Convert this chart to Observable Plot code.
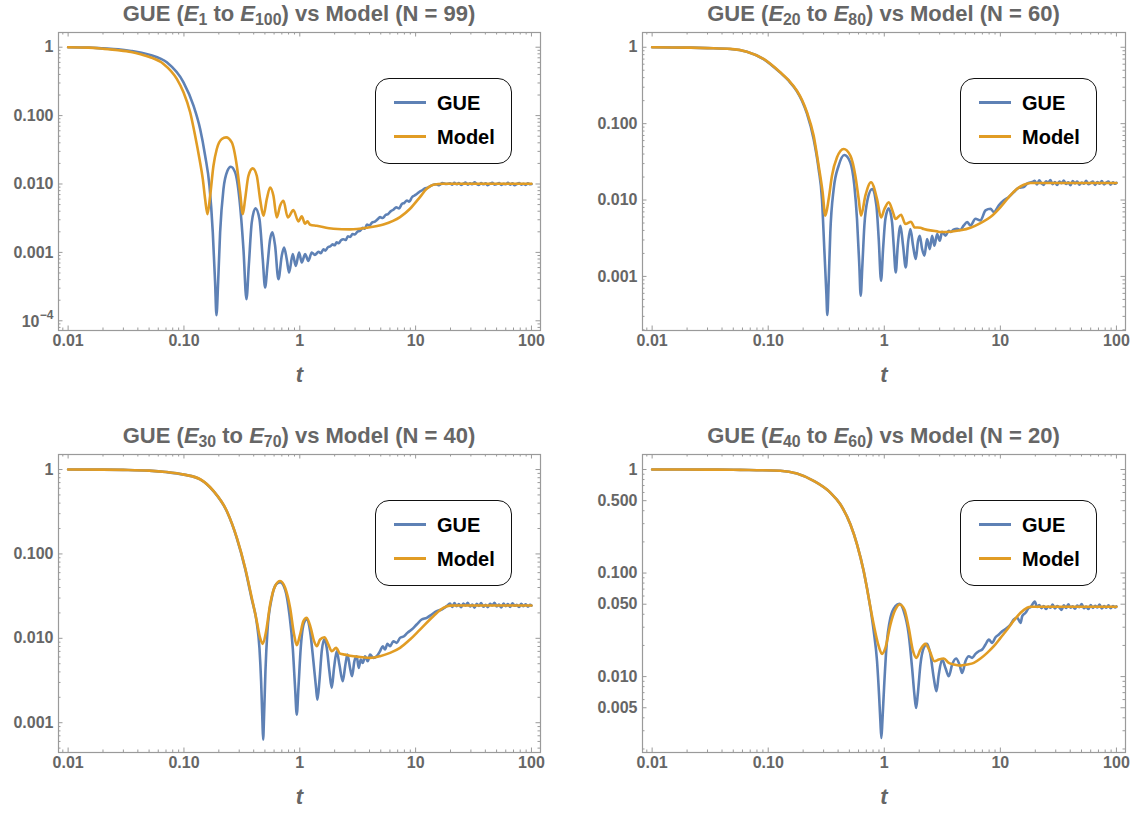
<!DOCTYPE html>
<html><head><meta charset="utf-8">
<script src="https://cdn.jsdelivr.net/npm/d3@7"></script>
<script src="https://cdn.jsdelivr.net/npm/@observablehq/plot@0.6"></script>
<style>
html,body{margin:0;padding:0;background:#fff;}
#chart{position:relative;width:1137px;height:814px;overflow:hidden;font-family:"Liberation Sans",Arial,Helvetica,sans-serif;}
.panel{position:absolute;}
.title{position:absolute;white-space:nowrap;font-size:22px;line-height:22px;font-weight:bold;color:#666;transform:translateX(-50%);}
.title sub{font-size:0.72em;position:relative;top:0.28em;vertical-align:baseline;line-height:0;}
.legend{position:absolute;width:137px;height:86px;border:1.2px solid #111;border-radius:14px;background:#fff;box-sizing:border-box;}
.sw{position:absolute;left:18px;width:32px;height:3px;}
.lt{position:absolute;left:61px;font-size:20px;line-height:20px;font-weight:bold;color:#000;}
</style></head><body><div id="chart"></div>
<script>
// ---------- data (t, value) ----------
const model1 = [[0.01,1.0],[0.015,0.985],[0.02,0.95],[0.027,0.905],[0.035,0.85],[0.043,0.78],[0.0511,0.714],[0.0666,0.57],[0.0868,0.344],[0.0991,0.219],[0.1131,0.112],[0.1249,0.0509],[0.1362,0.0232],[0.1455,0.0118],[0.1524,0.0060],[0.1596,0.00363],[0.1683,0.00673],[0.1798,0.0185],[0.1921,0.0325],[0.2122,0.0455],[0.2312,0.0481],[0.2588,0.0406],[0.2859,0.0185],[0.3055,0.00753],[0.3222,0.00363],[0.3373,0.0060],[0.3604,0.0132],[0.3928,0.0169],[0.4253,0.0132],[0.4544,0.0060],[0.4857,0.00343],[0.5188,0.0060],[0.5544,0.00891],[0.5923,0.00673],[0.6329,0.00324],[0.6761,0.00481],[0.7226,0.00569],[0.7874,0.00324],[0.8812,0.00415],[0.9732,0.00284],[1.040,0.00336],[1.111,0.00262],[1.164,0.00284],[1.227,0.00254],[1.401,0.00245],[1.951,0.00222],[2.716,0.00217],[3.78,0.00229],[5.27,0.00256],[7.33,0.00328],[8.95,0.00435],[10.9,0.00644],[12.46,0.00853],[14.22,0.00976],[17.35,0.0101],[30,0.0101],[65,0.0101],[100,0.0101]];
const gue1 = [[0.01,1.0],[0.015,0.99],[0.02,0.962],[0.027,0.93],[0.035,0.88],[0.043,0.83],[0.0511,0.772],[0.0711,0.602],[0.0991,0.307],[0.1209,0.140],[0.138,0.0637],[0.1524,0.0259],[0.166,0.00944],[0.1774,0.00196],[0.1858,0.000362],[0.1908,0.000121],[0.1972,0.000362],[0.2052,0.00196],[0.2193,0.00844],[0.2374,0.0156],[0.2537,0.0179],[0.2765,0.0148],[0.3014,0.0060],[0.3264,0.00111],[0.3464,0.000207],[0.3628,0.000635],[0.385,0.00274],[0.4143,0.0044],[0.4484,0.00307],[0.479,0.000796],[0.5019,0.000306],[0.5256,0.000635],[0.5544,0.00156],[0.5808,0.00196],[0.6122,0.00125],[0.6541,0.000405],[0.6989,0.00089],[0.7318,0.00118],[0.7717,0.000796],[0.8085,0.000508],[0.8696,0.000942],[0.923,0.000635],[0.9862,0.000997],[1.040,0.000711],[1.111,0.000942],[1.187,0.000752],[1.268,0.000997],[1.35,0.00092],[1.45,0.00102],[1.52,0.00097],[1.60,0.00111],[1.66,0.00106],[1.75,0.00119],[1.83,0.00122],[1.92,0.00131],[2.0,0.00127],[2.08,0.0014],[2.17,0.00136],[2.27,0.00151],[2.38,0.00156],[2.5,0.00152],[2.6,0.00172],[2.72,0.00168],[2.85,0.00185],[3.0,0.00183],[3.15,0.00202],[3.31,0.00207],[3.5,0.00228],[3.65,0.00222],[3.8,0.00256],[4.0,0.00247],[4.2,0.00272],[4.45,0.00282],[4.7,0.00305],[4.93,0.00328],[5.2,0.00318],[5.5,0.00352],[5.8,0.00365],[6.1,0.0040],[6.43,0.0042],[6.8,0.00455],[7.2,0.0044],[7.6,0.0051],[8.0,0.0053],[8.4,0.00575],[8.8,0.0055],[9.3,0.0064],[9.8,0.0068],[10.3,0.0072],[10.8,0.0077],[11.4,0.0081],[12.0,0.0086],[12.7,0.0088],[13.3,0.0092],[14.1,0.0097],[15.0,0.0099],[16.0,0.0096],[17.0,0.0103],[18.3,0.0100]];

const model2 = [[0.01,1.0],[0.02,0.99],[0.03,0.975],[0.0471,0.951],[0.0655,0.875],[0.0912,0.703],[0.127,0.47],[0.15,0.37],[0.1768,0.27],[0.1953,0.205],[0.2157,0.1408],[0.2462,0.0697],[0.2719,0.0282],[0.2944,0.0126],[0.3105,0.00623],[0.3317,0.0103],[0.3543,0.0208],[0.3915,0.0362],[0.4468,0.0466],[0.51,0.0381],[0.5632,0.0208],[0.6018,0.0103],[0.6303,0.00623],[0.6871,0.0114],[0.7686,0.0171],[0.866,0.0103],[0.9378,0.00593],[1.002,0.00762],[1.092,0.00933],[1.19,0.00689],[1.247,0.00564],[1.395,0.00643],[1.52,0.00485],[1.702,0.0052],[1.818,0.00439],[2.048,0.00434],[2.189,0.00417],[2.852,0.00389],[3.046,0.00381],[3.717,0.00385],[4.53,0.00401],[5.527,0.00434],[6.74,0.0050],[8.22,0.00598],[10.03,0.00809],[11.83,0.01094],[13.96,0.01406],[15.94,0.01588],[18.2,0.0167],[25,0.0167],[50,0.0167],[100,0.0167]];
const gue2 = [[0.01,1.0],[0.02,0.99],[0.03,0.975],[0.0471,0.95],[0.0655,0.873],[0.0912,0.70],[0.127,0.465],[0.15,0.365],[0.1768,0.265],[0.1953,0.199],[0.2157,0.135],[0.2462,0.063],[0.2719,0.0255],[0.2905,0.0103],[0.3043,0.00228],[0.3167,0.000617],[0.3231,0.000312],[0.3317,0.000834],[0.3428,0.00377],[0.3664,0.0139],[0.4046,0.0282],[0.4529,0.0389],[0.51,0.0311],[0.5523,0.0154],[0.5821,0.00564],[0.6096,0.00138],[0.6261,0.000558],[0.6472,0.00138],[0.6735,0.00461],[0.7194,0.0103],[0.7843,0.0139],[0.855,0.00843],[0.8956,0.00308],[0.938,0.000877],[0.9761,0.00228],[1.022,0.00564],[1.092,0.00778],[1.167,0.0051],[1.206,0.00252],[1.255,0.00113],[1.306,0.00252],[1.377,0.00461],[1.452,0.00252],[1.531,0.00131],[1.603,0.00279],[1.679,0.00417],[1.77,0.00252],[1.866,0.00169],[1.955,0.00293],[2.021,0.00341],[2.117,0.00228],[2.217,0.00187],[2.338,0.00308],[2.466,0.00228],[2.582,0.00341],[2.704,0.00252],[2.852,0.00359],[3.007,0.00293],[3.149,0.00385],[3.365,0.00341],[3.595,0.00396],[3.715,0.00381],[3.95,0.0041],[4.242,0.00421],[4.5,0.00405],[4.842,0.00466],[5.173,0.00515],[5.527,0.00466],[6.105,0.00569],[6.74,0.00541],[7.445,0.00732],[8.22,0.0077],[8.785,0.00696],[9.703,0.00851],[10.72,0.0099],[11.83,0.01094],[13.07,0.01272],[14.43,0.0145],[15.94,0.0148],[17.03,0.01637],[18.81,0.0172]];

const model3 = [[0.01,1.0],[0.02,0.997],[0.03,0.99],[0.05,0.97],[0.07,0.935],[0.1,0.87],[0.138,0.767],[0.1798,0.558],[0.2344,0.323],[0.2859,0.1557],[0.3373,0.0686],[0.385,0.0302],[0.4253,0.01596],[0.4544,0.0101],[0.479,0.00859],[0.5121,0.01213],[0.5544,0.0252],[0.6122,0.0416],[0.6762,0.0477],[0.7468,0.0397],[0.8246,0.023],[0.893,0.0111],[0.9417,0.00829],[1.006,0.0111],[1.075,0.01596],[1.148,0.0175],[1.243,0.0133],[1.328,0.00925],[1.401,0.00805],[1.497,0.00968],[1.631,0.0103],[1.767,0.00843],[1.887,0.00703],[2.057,0.00771],[2.227,0.00659],[2.46,0.00641],[2.716,0.00623],[3.313,0.00601],[4.043,0.00586],[4.93,0.00614],[6.016,0.00672],[7.335,0.00771],[8.947,0.00968],[10.91,0.0127],[14.22,0.0183],[17.35,0.023],[19.81,0.0244],[22,0.0245],[50,0.0245],[100,0.0245]];
const gue3 = [[0.01,1.0],[0.02,0.997],[0.03,0.99],[0.05,0.97],[0.07,0.935],[0.1,0.87],[0.138,0.765],[0.1798,0.555],[0.2344,0.32],[0.2859,0.154],[0.3373,0.067],[0.385,0.029],[0.4253,0.01526],[0.4484,0.0077],[0.4636,0.0031],[0.476,0.001038],[0.4824,0.000629],[0.492,0.001245],[0.5052,0.00407],[0.5256,0.01215],[0.5731,0.0302],[0.6244,0.0435],[0.6762,0.0463],[0.7468,0.0379],[0.814,0.01915],[0.8696,0.0077],[0.911,0.00258],[0.9417,0.001245],[0.9734,0.00258],[1.019,0.0077],[1.089,0.01526],[1.148,0.0167],[1.227,0.01215],[1.311,0.00535],[1.382,0.00258],[1.419,0.001875],[1.477,0.0031],[1.547,0.00703],[1.621,0.00967],[1.709,0.0077],[1.802,0.00407],[1.887,0.00258],[1.976,0.00446],[2.084,0.00703],[2.197,0.00488],[2.348,0.0031],[2.476,0.00488],[2.576,0.00642],[2.716,0.00446],[2.826,0.00355],[2.96,0.00535],[3.101,0.00613],[3.227,0.00446],[3.357,0.0056],[3.494,0.00511],[3.66,0.00613],[3.859,0.00535],[4.043,0.00642],[4.318,0.00586],[4.614,0.00613],[4.93,0.00703],[5.199,0.00806],[5.445,0.00736],[5.703,0.00859],[6.014,0.00806],[6.426,0.00924],[6.865,0.00883],[7.335,0.01012],[7.943,0.0106],[8.486,0.0116],[9.25,0.0127],[10.21,0.01457],[11.28,0.0167],[12.46,0.0175],[13.76,0.01915],[15.2,0.021],[16.79,0.02196],[18.54,0.02405]];

const model4 = [[0.01,1.0],[0.03,0.998],[0.05,0.993],[0.08,0.985],[0.127,0.972],[0.1768,0.914],[0.2462,0.776],[0.3428,0.598],[0.418,0.4615],[0.51,0.2955],[0.5821,0.1893],[0.6646,0.1045],[0.7339,0.0577],[0.8109,0.0318],[0.8953,0.01965],[0.9566,0.01657],[1.022,0.01894],[1.129,0.0318],[1.247,0.0445],[1.359,0.0497],[1.491,0.0445],[1.624,0.02957],[1.77,0.01758],[1.891,0.01516],[2.048,0.01825],[2.262,0.0207],[2.465,0.01758],[2.704,0.01407],[2.947,0.0146],[3.254,0.01493],[3.594,0.01356],[3.97,0.01306],[4.531,0.01277],[5.173,0.01306],[5.906,0.01356],[6.742,0.01493],[7.697,0.01694],[8.786,0.01965],[10.03,0.02366],[11.45,0.0285],[13.07,0.0348],[14.92,0.0413],[17.03,0.0462],[18.2,0.0472],[25,0.0472],[50,0.0472],[100,0.0472]];
const gue4 = [[0.01,1.0],[0.03,0.998],[0.05,0.993],[0.08,0.985],[0.127,0.972],[0.1768,0.914],[0.2462,0.776],[0.3428,0.598],[0.418,0.4615],[0.51,0.2955],[0.5821,0.1893],[0.6646,0.104],[0.7587,0.0462],[0.8109,0.02746],[0.8662,0.01407],[0.9013,0.00669],[0.9254,0.0037],[0.9441,0.00255],[0.963,0.0037],[0.9954,0.00777],[1.043,0.01894],[1.129,0.03695],[1.247,0.0479],[1.35,0.0505],[1.471,0.0429],[1.624,0.02548],[1.736,0.01213],[1.818,0.00669],[1.879,0.00497],[1.942,0.00669],[2.048,0.01306],[2.188,0.01894],[2.338,0.0207],[2.498,0.01632],[2.669,0.0097],[2.814,0.00721],[2.947,0.01045],[3.149,0.0146],[3.365,0.01213],[3.595,0.01007],[3.842,0.01306],[4.159,0.01493],[4.443,0.01306],[4.686,0.01085],[5.005,0.01407],[5.349,0.01573],[5.715,0.01516],[6.107,0.01657],[6.524,0.01758],[6.971,0.01825],[7.447,0.0204],[7.957,0.0228],[8.502,0.02117],[9.085,0.024],[9.706,0.0255],[10.37,0.02746],[11.45,0.02957],[12.23,0.03184],[13.07,0.0356],[13.97,0.03695],[14.92,0.03304],[15.43,0.03835],[16.48,0.0413],[17.61,0.0462],[18.2,0.0469]];

// noisy GUE plateau (t shared, values per panel)
const plateauT = [19.8,20.7,21.6,22.6,23.6,24.7,25.8,27.0,28.2,29.5,30.8,32.2,33.7,35.2,36.8,38.5,40.2,42.0,43.9,45.9,48.0,50.2,52.5,54.9,57.4,60.0,62.7,65.5,68.5,71.6,74.8,78.2,81.7,85.4,89.3,93.3,97.5,100];
const plateau1 = [0.0102,0.0098,0.0104,0.0099,0.0103,0.0097,0.0101,0.0105,0.0098,0.0102,0.0099,0.0106,0.0100,0.0097,0.0103,0.0099,0.0102,0.0096,0.0101,0.0104,0.0098,0.0100,0.0103,0.0097,0.0101,0.0099,0.0104,0.0098,0.0102,0.0096,0.0100,0.0103,0.0098,0.0101,0.0097,0.0102,0.0099,0.0100];
const plateau2 = [0.0178,0.0160,0.0181,0.0165,0.0158,0.0176,0.0169,0.0183,0.0161,0.0172,0.0157,0.0175,0.0166,0.0180,0.0162,0.0171,0.0156,0.0177,0.0165,0.0174,0.0159,0.0170,0.0163,0.0179,0.0161,0.0168,0.0175,0.0158,0.0172,0.0164,0.0177,0.0160,0.0169,0.0174,0.0159,0.0171,0.0163,0.0168];
const plateau3 = [0.0258,0.0236,0.0262,0.0240,0.0255,0.0233,0.0259,0.0244,0.0264,0.0238,0.0252,0.0231,0.0257,0.0242,0.0261,0.0237,0.0250,0.0234,0.0256,0.0245,0.0263,0.0239,0.0251,0.0232,0.0258,0.0241,0.0254,0.0236,0.0260,0.0243,0.0249,0.0235,0.0257,0.0240,0.0253,0.0237,0.0250,0.0244];
const plateau4 = [0.0532,0.0470,0.0492,0.0458,0.0481,0.0449,0.0476,0.0462,0.0495,0.0455,0.0480,0.0466,0.0441,0.0488,0.0459,0.0499,0.0463,0.0477,0.0452,0.0486,0.0468,0.0503,0.0457,0.0474,0.0449,0.0490,0.0461,0.0483,0.0466,0.0495,0.0454,0.0479,0.0462,0.0487,0.0458,0.0481,0.0465,0.0476];

// titles: [lower index, upper index, N]
const titleParts = [["1","100","99"],["20","80","60"],["30","70","40"],["40","60","20"]];
const seriesNames = ["GUE","Model"];
const seriesColors = ["#5E81B5","#E19C24"];

// ticks ("base^exp" = power label)
const xTickValues = [0.01,0.1,1,10,100];
const xTickLabels = ["0.01","0.10","1","10","100"];
const yTickValues1 = [1,0.1,0.01,0.001,0.0001];
const yTickLabels1 = ["1","0.100","0.010","0.001","10^\u22124"];
const yTickValues2 = [1,0.1,0.01,0.001];
const yTickLabels2 = ["1","0.100","0.010","0.001"];
const yTickValues4 = [1,0.5,0.1,0.05,0.01,0.005];
const yTickLabels4 = ["1","0.500","0.100","0.050","0.010","0.005"];

// ---------- layout ----------
const xDomain = [0.00826, 119.7];
const frameColor = "#9a9a9a";
const labelColor = "#666";
const toRows = arr => arr.map(([t, v]) => ({t, v}));
const withPlateau = (arr, p) => toRows(arr).concat(plateauT.map((t, i) => ({t, v: p[i]})));

const panels = [
  {model: model1, gue: withPlateau(gue1, plateau1), yDomain: [7.21e-5, 1.641], yT: yTickValues1, yL: yTickLabels1, majors: [1],
   left: 0, top: 0, width: 560, height: 400, mL: 58, mR: 20, mT: 32, mB: 70},
  {model: model2, gue: withPlateau(gue2, plateau2), yDomain: [1.959e-4, 1.560], yT: yTickValues2, yL: yTickLabels2, majors: [1],
   left: 568, top: 0, width: 569, height: 400, mL: 74, mR: 12, mT: 32, mB: 70},
  {model: model3, gue: withPlateau(gue3, plateau3), yDomain: [4.436e-4, 1.507], yT: yTickValues2, yL: yTickLabels2, majors: [1],
   left: 0, top: 400, width: 560, height: 414, mL: 58, mR: 20, mT: 54, mB: 62},
  {model: model4, gue: withPlateau(gue4, plateau4), yDomain: [1.849e-3, 1.396], yT: yTickValues4, yL: yTickLabels4, majors: [1,5],
   left: 568, top: 400, width: 569, height: 414, mL: 74, mR: 12, mT: 54, mB: 62}
];

function logTicks(domain, majors) {
  const out = {major: [], minor: []};
  const lo = Math.floor(Math.log10(domain[0])), hi = Math.ceil(Math.log10(domain[1]));
  for (let d = lo; d <= hi; d++) for (let k = 1; k <= 9; k++) {
    const v = +(k * Math.pow(10, d)).toPrecision(6);
    if (v < domain[0] || v > domain[1]) continue;
    (majors.includes(k) ? out.major : out.minor).push(v);
  }
  return out;
}

const chart = document.getElementById("chart");
const font = '"Liberation Sans", Arial, Helvetica, sans-serif';
const lab = {fontSize: 16, fontWeight: "bold", fill: labelColor};

panels.forEach((p, idx) => {
  const fw = p.width - p.mL - p.mR, fh = p.height - p.mT - p.mB;
  const xt = logTicks(xDomain, [1]);
  const yt = logTicks(p.yDomain, p.majors);
  const tk = {stroke: frameColor, strokeWidth: 1};
  const yPlain = p.yT.map((v, i) => ({v, s: p.yL[i]})).filter(d => !d.s.includes("^"));
  const yPow = p.yT.map((v, i) => ({v, s: p.yL[i]})).filter(d => d.s.includes("^"))
    .map(d => ({v: d.v, base: d.s.split("^")[0], exp: d.s.split("^")[1]}));
  const svg = Plot.plot({
    width: p.width, height: p.height,
    marginLeft: p.mL, marginRight: p.mR, marginTop: p.mT, marginBottom: p.mB,
    x: {type: "log", domain: xDomain, axis: null},
    y: {type: "log", domain: p.yDomain, axis: null},
    style: {fontFamily: font, background: "transparent", overflow: "visible"},
    marks: [
      Plot.ruleX(xt.major, {...tk, insetTop: fh - 4.5}),
      Plot.ruleX(xt.minor, {...tk, insetTop: fh - 2.5}),
      Plot.ruleX(xt.major, {...tk, insetBottom: fh - 4.5}),
      Plot.ruleX(xt.minor, {...tk, insetBottom: fh - 2.5}),
      Plot.ruleY(yt.major, {...tk, insetRight: fw - 4.5}),
      Plot.ruleY(yt.minor, {...tk, insetRight: fw - 2.5}),
      Plot.ruleY(yt.major, {...tk, insetLeft: fw - 4.5}),
      Plot.ruleY(yt.minor, {...tk, insetLeft: fw - 2.5}),
      Plot.frame({stroke: frameColor, strokeWidth: 1.2}),
      Plot.text(xTickValues, {x: d => d, text: (d, i) => xTickLabels[i], frameAnchor: "bottom", dy: 15, ...lab}),
      Plot.text(yPlain, {y: "v", text: "s", frameAnchor: "left", dx: -5, textAnchor: "end", ...lab}),
      Plot.text(yPow, {y: "v", text: "base", frameAnchor: "left", dx: -19, dy: 1, textAnchor: "end", ...lab}),
      Plot.text(yPow, {y: "v", text: "exp", frameAnchor: "left", dx: -5, dy: -6, textAnchor: "end", ...lab, fontSize: 12}),
      Plot.line(p.gue, {x: "t", y: "v", stroke: seriesColors[0], strokeWidth: 2.6, curve: "monotone-x"}),
      Plot.line(toRows(p.model), {x: "t", y: "v", stroke: seriesColors[1], strokeWidth: 2.6, curve: "monotone-x"}),
      Plot.text(["t"], {text: d => d, frameAnchor: "bottom", dy: 51, fontSize: 22, fontStyle: "italic", fontWeight: "bold", fill: labelColor})
    ]
  });
  const wrap = document.createElement("div");
  wrap.className = "panel";
  wrap.style.left = p.left + "px";
  wrap.style.top = p.top + "px";
  wrap.appendChild(svg);
  chart.appendChild(wrap);

  // title
  const [a, b, n] = titleParts[idx];
  const title = document.createElement("div");
  title.className = "title";
  title.style.left = (p.left + p.mL + fw / 2) + "px";
  title.style.top = (p.top + p.mT - 29.5) + "px";
  title.innerHTML = `GUE (<i>E</i><sub>${a}</sub> to <i>E</i><sub>${b}</sub>) vs Model (N = ${n})`;
  chart.appendChild(title);

  // legend
  const lg = document.createElement("div");
  lg.className = "legend";
  const lgLeft = p.left + p.width - p.mR - 28 - 137;
  const lgTop = p.top + p.mT + 45.5;
  lg.style.left = lgLeft + "px";
  lg.style.top = lgTop + "px";
  seriesNames.forEach((name, i) => {
    const cy = i === 0 ? 25 : 59;
    const sw = document.createElement("div");
    sw.className = "sw";
    sw.style.top = (cy - 1.5 - 1) + "px";
    sw.style.background = seriesColors[i];
    const tx = document.createElement("div");
    tx.className = "lt";
    tx.style.top = (cy - 10 - 1) + "px";
    tx.textContent = name;
    lg.appendChild(sw);
    lg.appendChild(tx);
  });
  chart.appendChild(lg);
});
</script></body></html>
